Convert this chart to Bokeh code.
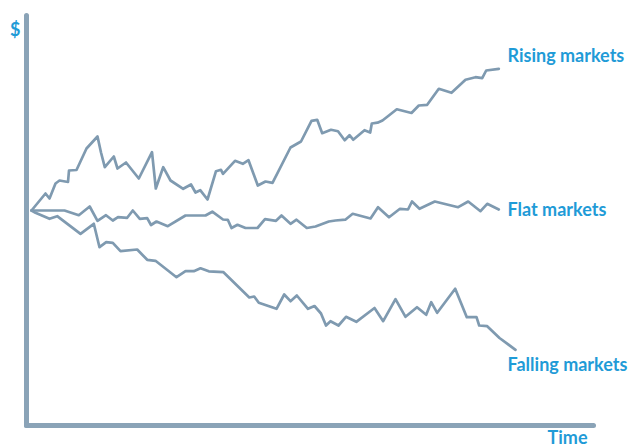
from bokeh.plotting import figure
from bokeh.models import Range1d, Label, LinearAxis
from bokeh.embed import file_html
from bokeh.resources import INLINE

# --- data (time step, value) ---
rising_t = [31, 45, 49, 55, 59, 67.5, 68.5, 76, 86, 97, 100.5, 104.3, 113.3, 117, 125.5, 138.3,
            151.5, 155.3, 162.7, 170, 182.7, 190.5, 195, 199.7, 207, 215.5, 220.5, 222.5, 234.5,
            242.3, 248, 257.3, 265, 272, 290, 300.5, 311, 316.7, 321.7, 330.5, 337.5, 344.2, 349,
            352.7, 364, 369.7, 371.3, 377, 382, 396.3, 411, 418.3, 426.7, 438.3, 451, 465, 475,
            481.7, 485.7, 498.3]
rising_v = [237, 254, 249, 264, 267, 265.5, 277, 277.5, 299, 311, 295, 280.3, 291, 279, 285, 269,
            295.3, 259, 280.3, 267, 258.7, 263, 255, 257.3, 248, 276.3, 277.7, 273.7, 286.7,
            283.7, 287.3, 262, 266, 264.7, 300, 306, 326.7, 327.7, 314.3, 317.7, 316.2, 307.3, 312.3,
            307.8, 317.3, 315, 324, 324.8, 327, 338.2, 334.5, 342, 342.7, 358.7, 354.7, 367.7, 370.3,
            369.3, 377, 378.7]

flat_t = [31, 64, 78.3, 89.2, 97, 105.5, 112.3, 117.5, 126.7, 132.3, 139.3, 146.7, 150.5, 156,
          167.3, 185, 205, 211.8, 222.5, 227.3, 231, 237, 245, 257, 264.5, 275.5, 281, 290, 296,
          306.3, 315, 328.3, 335, 344.8, 352.2, 370, 377.5, 388.5, 399.5, 407.5, 411.5, 419,
          434.3, 457.7, 467.7, 480, 486.7, 498.3]
flat_v = [237, 237, 232.3, 241, 226.7, 232.3, 227, 230.3, 229.7, 237, 228.7, 229.3, 222.5, 226,
          221.3, 232, 232, 235.8, 228, 227.7, 219.5, 222.7, 219.5, 219.5, 228.3, 226.7, 232, 223.7, 227.8,
          219.5, 221, 226, 227, 227.8, 233.7, 229, 240.3, 230.2, 238.7, 238, 246, 238.7,
          246, 240.3, 246, 236.3, 243.7, 238]

falling_t = [31, 35, 49, 56.7, 80, 93.3, 99, 105.7, 112.3, 120, 136.7, 146.7, 155, 176, 185, 193.3,
             200, 208.3, 223, 248.8, 253.7, 258.3, 276, 283.7, 290, 296.3, 307.5, 314, 320.5, 325.5,
             330, 338, 345.5, 355.8, 374, 382.7, 395, 405, 416.5, 425.7, 430.7, 436.7, 454.7, 466.3,
             476, 478.7, 486.7, 499, 515]
falling_v = [237, 234.7, 228.7, 231.3, 213.7, 223.7, 200.3, 205.3, 204.7, 196.3, 198, 187.7, 186.7,
             170.3, 176.3, 176.3, 179.2, 176.2, 175.3, 150, 151, 144.8, 138.7, 153, 146.3, 152, 138.7,
             141.5, 134, 122, 126.3, 122, 130.7, 125.7, 139.5, 126.3, 148.3, 130.7, 140.3, 132.7,
             145.3, 134.7, 158.7, 130.3, 130.3, 122, 121.3, 109.5, 97.7]

series_labels = ["Rising markets", "Flat markets", "Falling markets"]
x_label = "Time"
y_label = "$"

# axis extents (time / value units)
t_axis = (26, 593)
v_axis = (22, 432)

LINE = "#7f9ab0"
AXIS = "#8aa3b7"
BLUE = "#1f9bd7"
FONT = "Lato"

p = figure(width=631, height=447, output_backend="svg", toolbar_location=None,
           x_range=Range1d(0, 631), y_range=Range1d(0, 447),
           x_axis_location=None, y_axis_location=None, min_border=0)
p.outline_line_color = None
p.grid.visible = False
p.background_fill_color = "white"
p.border_fill_color = "white"

xax = LinearAxis(fixed_location=v_axis[0], bounds=t_axis)
yax = LinearAxis(fixed_location=t_axis[0], bounds=v_axis)
for ax in (xax, yax):
    ax.ticker = []
    ax.major_tick_line_color = None
    ax.minor_tick_line_color = None
    ax.major_label_text_font_size = "0px"
    ax.axis_line_width = 5
    ax.axis_line_color = AXIS
    ax.axis_line_cap = "round"
p.add_layout(xax, "below")
p.add_layout(yax, "left")

for t, v in ((rising_t, rising_v), (flat_t, flat_v), (falling_t, falling_v)):
    p.line(t, v, line_color=LINE, line_width=2.7, line_join="round", line_cap="round")

def lab(txt, x, y, align="left"):
    p.add_layout(Label(x=x, y=y, text=txt, text_font=FONT, text_font_style="bold",
                       text_font_size="18px", text_color=BLUE, text_baseline="alphabetic",
                       text_align=align))

lab(series_labels[0], 507, 393)
lab(series_labels[1], 507, 239)
lab(series_labels[2], 507, 83.5)
lab(x_label, 587, 11, "right")
lab(y_label, 20, 419, "right")

open("out.html", "w").write(file_html(p, INLINE))
